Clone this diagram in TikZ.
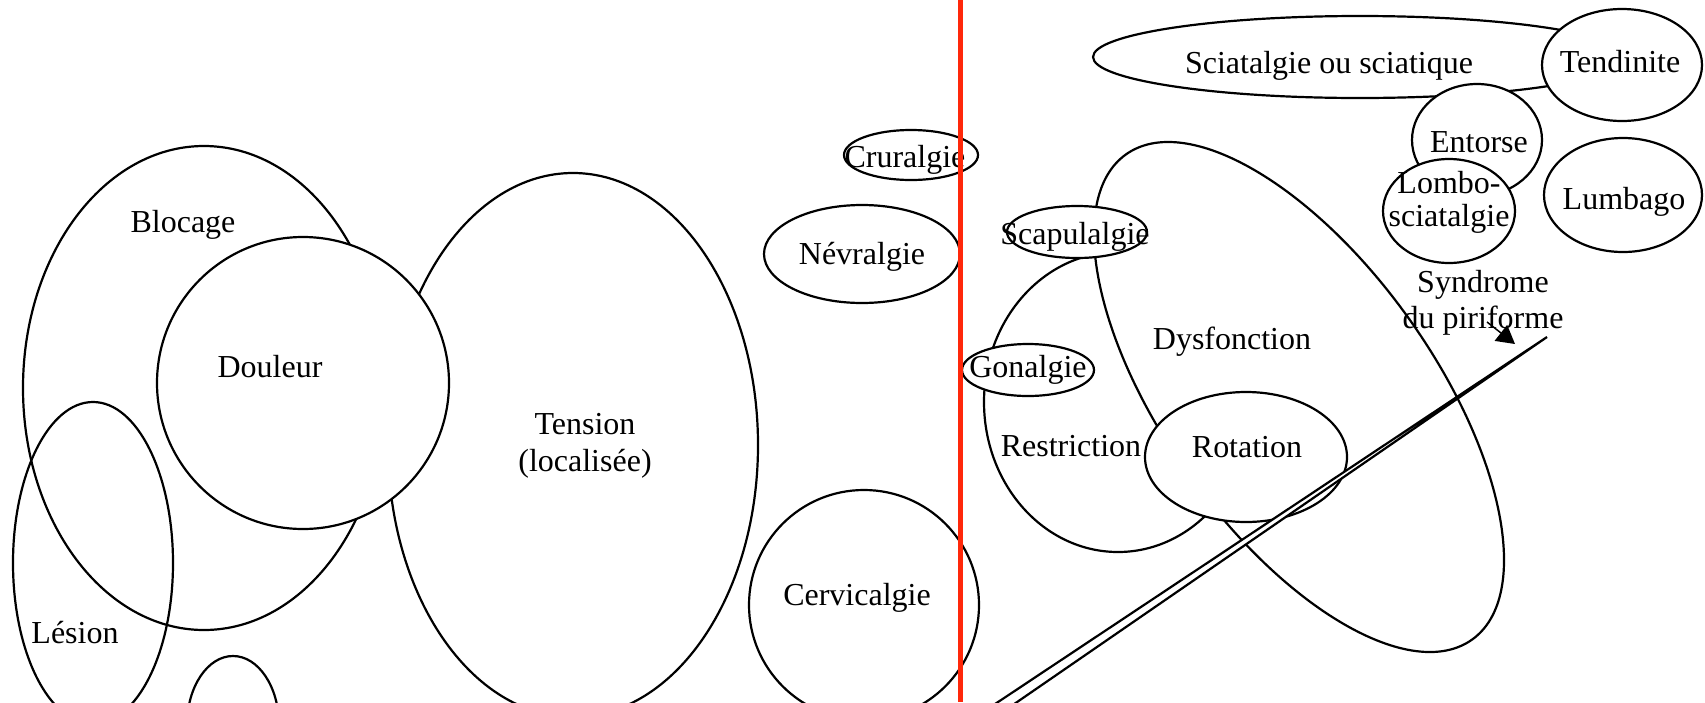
\documentclass[tikz,border=0pt]{standalone}
\usepackage{fontspec}
\setmainfont{Liberation Serif}
\usetikzlibrary{arrows.meta}
\definecolor{trait}{RGB}{255,40,10}
\begin{document}
\begin{tikzpicture}[
    x=1pt,
    y=-1pt,
    line width=2.2pt,
    font=\fontsize{32}{36}\selectfont,
    zone/.style={draw=black, fill=white},
    etiq/.style={inner sep=0pt, align=center}
]
\useasboundingbox (0,0) rectangle (1705,702);
\clip (0,0) rectangle (1705,702);

\draw[zone] (204,388) ellipse [x radius=181pt, y radius=242pt];
\draw[zone] (573,445) ellipse [x radius=185pt, y radius=272pt];
\draw[zone] (303,383) circle [radius=146pt];
\draw (93,563) ellipse [x radius=80pt, y radius=161pt];
\draw[zone] (233,725) ellipse [x radius=46pt, y radius=69pt];

\draw[zone] (911,155) ellipse [x radius=67pt, y radius=25pt];
\draw[zone] (862,254) ellipse [x radius=98pt, y radius=49pt];
\draw[zone] (864,605) circle [radius=115pt];

\draw[zone] (1118,402) ellipse [x radius=134pt, y radius=150pt];
\draw[zone, rotate around={-54.5:(1299,397)}] (1299,397) ellipse [x radius=298pt, y radius=135pt];
\draw[zone] (1077,232) ellipse [x radius=70pt, y radius=26pt];
\draw[zone] (1028,370) ellipse [x radius=66pt, y radius=26pt];
\draw[zone] (1246,457) ellipse [x radius=101pt, y radius=65pt];

\draw[zone] (1360,57) ellipse [x radius=267pt, y radius=41pt];
\draw[zone] (1622,65) ellipse [x radius=80pt, y radius=56pt];
\draw[zone] (1477,140) ellipse [x radius=65pt, y radius=56pt];
\draw[zone] (1449,211) ellipse [x radius=66pt, y radius=52pt];
\draw[zone] (1623,195) ellipse [x radius=79pt, y radius=57pt];

\draw[zone] (1547,337) -- (971,720) -- (991,720) -- cycle;

\node[etiq] (blocage) at (183,225) {Blocage};
\node[etiq] (douleur) at (270,367) {Douleur};
\node[etiq] (lesion) at (75,633) {Lésion};
\node[etiq, font=\fontsize{32}{37}\selectfont] (tension) at (585,446) {Tension\\(localisée)};
\node[etiq] (cruralgie) at (905,160) {Cruralgie};
\node[etiq] (nevralgie) at (862,257) {Névralgie};
\node[etiq] (cervicalgie) at (857,598) {Cervicalgie};
\node[etiq] (scapulalgie) at (1075,237) {Scapulalgie};
\node[etiq] (gonalgie) at (1028,370) {Gonalgie};
\node[etiq] (dysfonction) at (1232,342) {Dysfonction};
\node[etiq] (restriction) at (1071,446) {Restriction};
\node[etiq] (rotation) at (1247,447) {Rotation};
\node[etiq] (sciatique) at (1329,66) {Sciatalgie ou sciatique};
\node[etiq] (tendinite) at (1620,62) {Tendinite};
\node[etiq] (entorse) at (1479,142) {Entorse};
\node[etiq, font=\fontsize{32}{33}\selectfont] (lombo) at (1449,202) {Lombo-\\sciatalgie};
\node[etiq] (lumbago) at (1624,202) {Lumbago};
\node[etiq] (piriforme) at (1483,303) {Syndrome\\du piriforme};

\coordinate (queue) at (1487,322);
\coordinate (pointe) at (1515,344);
\draw[-{Triangle[length=18pt,width=20pt]}, line width=1.5pt] (queue) -- (pointe);

\draw[trait, line width=5pt] (960.5,0) -- (960.5,702);
\end{tikzpicture}
\end{document}
